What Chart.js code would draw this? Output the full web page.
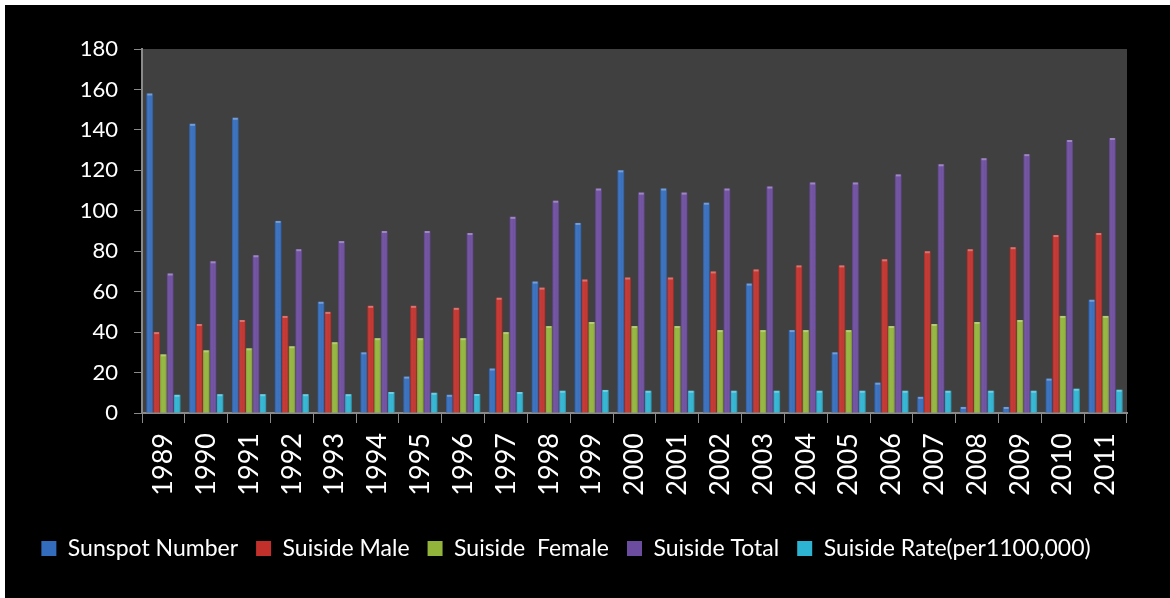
<!DOCTYPE html>
<html>
<head>
<meta charset="utf-8">
<script src="https://cdn.jsdelivr.net/npm/chart.js@4.4.1/dist/chart.umd.min.js"></script>
<style>
  html, body { margin: 0; padding: 0; background: #ffffff; }
  #wrap { position: absolute; left: 5px; top: 5px; width: 1165px; height: 593px; background: #000000; }
  canvas { display: block; }
</style>
</head>
<body>
<div id="wrap"><canvas id="c" width="1165" height="593"></canvas></div>
<script>
const years = ['1989','1990','1991','1992','1993','1994','1995','1996','1997','1998','1999','2000','2001','2002','2003','2004','2005','2006','2007','2008','2009','2010','2011'];
const sunspotNumber = [158, 143, 146, 95, 55, 30, 18, 9, 22, 65, 94, 120, 111, 104, 64, 41, 30, 15, 8, 3, 3, 17, 56];
const suisideMale   = [40, 44, 46, 48, 50, 53, 53, 52, 57, 62, 66, 67, 67, 70, 71, 73, 73, 76, 80, 81, 82, 88, 89];
const suisideFemale = [29, 31, 32, 33, 35, 37, 37, 37, 40, 43, 45, 43, 43, 41, 41, 41, 41, 43, 44, 45, 46, 48, 48];
const suisideTotal  = [69, 75, 78, 81, 85, 90, 90, 89, 97, 105, 111, 109, 109, 111, 112, 114, 114, 118, 123, 126, 128, 135, 136];
const suisideRate   = [9, 9.3, 9.3, 9.3, 9.3, 10.4, 10, 9.4, 10.4, 11, 11.4, 11, 11, 11, 11, 11, 11, 11, 11, 11, 11, 12, 11.5];
const seriesNames = ['Sunspot Number', 'Suiside Male', 'Suiside  Female', 'Suiside Total', 'Suiside Rate(per1100,000)'];
const seriesColors = ['#336cbc', '#c2302b', '#92b43a', '#6c4c9e', '#2db4d2'];
const yTicks = [0, 20, 40, 60, 80, 100, 120, 140, 160, 180];

const plotBg = {
  id: 'plotBg',
  beforeDraw(chart) {
    const { ctx, chartArea: a } = chart;
    ctx.save();
    ctx.fillStyle = '#404040';
    ctx.fillRect(a.left, a.top, a.right - a.left, a.bottom - a.top);
    ctx.restore();
  }
};

const bevel = {
  id: 'bevel',
  afterDatasetsDraw(chart) {
    const ctx = chart.ctx;
    ctx.save();
    chart.data.datasets.forEach((ds, i) => {
      const meta = chart.getDatasetMeta(i);
      if (meta.hidden) return;
      meta.data.forEach(el => {
        const l = el.x - el.width / 2, w = el.width;
        const top = Math.min(el.y, el.base), h = Math.abs(el.base - el.y);
        if (h < 1) return;
        const g = ctx.createLinearGradient(l, 0, l + w, 0);
        g.addColorStop(0, 'rgba(0,0,0,0.18)');
        g.addColorStop(0.35, 'rgba(255,255,255,0.06)');
        g.addColorStop(0.6, 'rgba(255,255,255,0.03)');
        g.addColorStop(1, 'rgba(0,0,0,0.25)');
        ctx.fillStyle = g;
        ctx.fillRect(l, top, w, h);
        ctx.fillStyle = 'rgba(255,255,255,0.3)';
        ctx.fillRect(l + 1, top, w - 2, Math.min(2, h));
      });
    });
    ctx.restore();
  }
};

const datasets = [sunspotNumber, suisideMale, suisideFemale, suisideTotal, suisideRate].map((d, i) => ({
  label: seriesNames[i],
  data: d,
  backgroundColor: seriesColors[i],
  borderWidth: 0,
  categoryPercentage: 0.8,
  barPercentage: 1.0
}));

new Chart(document.getElementById('c'), {
  type: 'bar',
  data: { labels: years, datasets },
  plugins: [plotBg, bevel],
  options: {
    responsive: false,
    animation: false,
    layout: { padding: { left: 0, right: 43, top: 44, bottom: 28 } },
    plugins: {
      tooltip: { enabled: false },
      legend: {
        position: 'bottom',
        labels: {
          color: '#ffffff',
          font: { family: 'Lato', size: 23 },
          boxWidth: 15,
          boxHeight: 15,
          padding: 18
        }
      }
    },
    scales: {
      x: {
        grid: { display: true, drawOnChartArea: false, drawTicks: true, tickLength: 10, color: '#8a8a8a', offset: true },
        border: { display: true, color: '#8a8a8a', width: 2 },
        ticks: { color: '#ffffff', font: { family: 'Lato', size: 27 }, minRotation: 90, maxRotation: 90, padding: 10, autoSkip: false },
        afterFit(scale) { scale.height = 106; }
      },
      y: {
        min: 0, max: 180,
        afterBuildTicks(scale) { scale.ticks = yTicks.map(v => ({ value: v })); },
        grid: { display: true, drawOnChartArea: false, drawTicks: true, tickLength: 8, color: '#8a8a8a' },
        border: { display: true, color: '#8a8a8a', width: 2 },
        ticks: { color: '#ffffff', font: { family: 'Lato', size: 22 }, padding: 16 },
        afterFit(scale) { scale.width = 137; }
      }
    }
  }
});
</script>
</body>
</html>
